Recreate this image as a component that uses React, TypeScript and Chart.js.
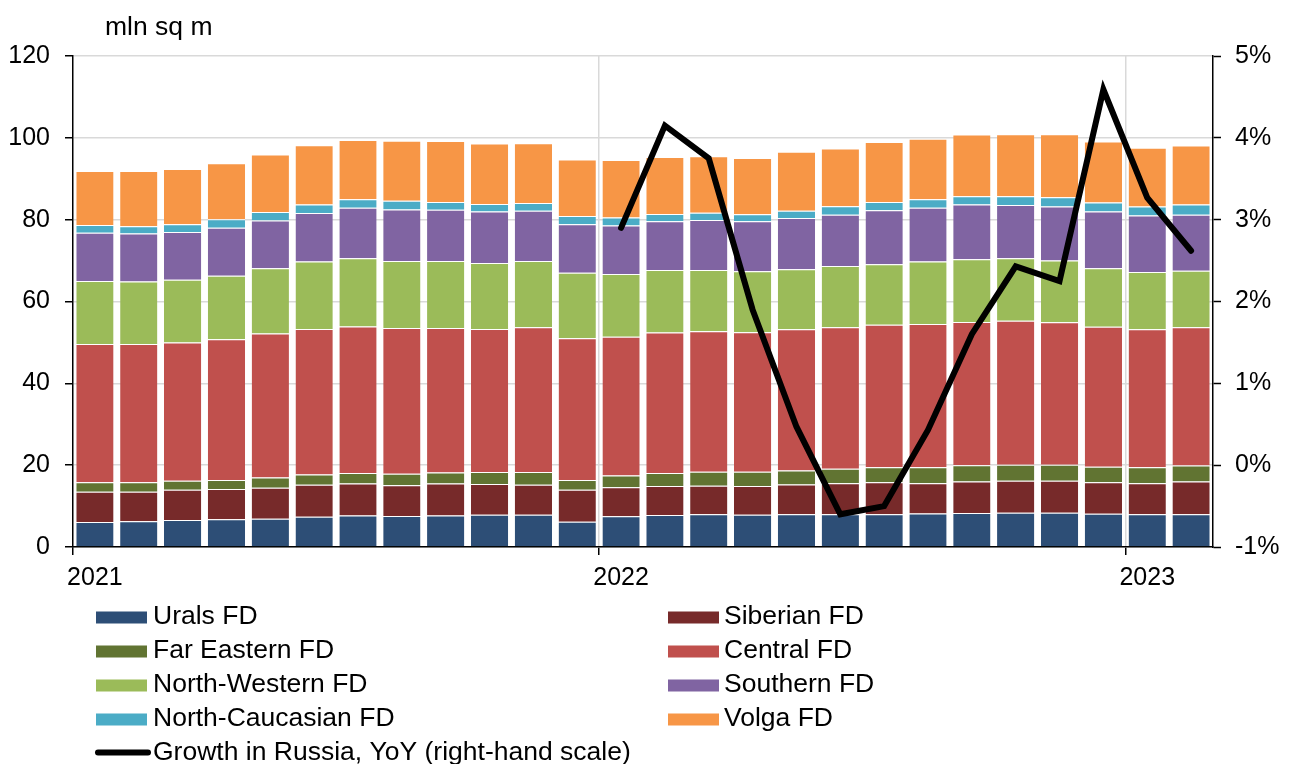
import React, { useEffect, useRef } from 'react';
import { Chart, registerables } from 'chart.js';

Chart.register(...registerables);

const months = [
  '2021-01', '2021-02', '2021-03', '2021-04', '2021-05', '2021-06', '2021-07', '2021-08', '2021-09', '2021-10', '2021-11', '2021-12',
  '2022-01', '2022-02', '2022-03', '2022-04', '2022-05', '2022-06', '2022-07', '2022-08', '2022-09', '2022-10', '2022-11', '2022-12',
  '2023-01', '2023-02',
];
const yearLabels = ['2021', '2022', '2023'];

const urals = [6.1, 6.3, 6.6, 6.8, 6.9, 7.4, 7.7, 7.6, 7.7, 7.9, 7.9, 6.2, 7.5, 7.8, 8.0, 7.9, 8.0, 8.0, 8.0, 8.2, 8.3, 8.4, 8.4, 8.1, 8.0, 8.0];
const siberian = [7.4, 7.2, 7.4, 7.4, 7.6, 7.8, 7.8, 7.5, 7.8, 7.5, 7.3, 7.8, 7.1, 7.1, 7.0, 7.0, 7.3, 7.6, 7.8, 7.4, 7.7, 7.8, 7.8, 7.7, 7.6, 8.0];
const farEastern = [2.3, 2.3, 2.2, 2.2, 2.5, 2.5, 2.6, 2.8, 2.7, 2.9, 3.1, 2.4, 2.9, 3.2, 3.4, 3.5, 3.4, 3.5, 3.7, 3.9, 4.0, 3.9, 3.9, 3.8, 3.9, 3.9];
const central = [33.8, 33.8, 33.8, 34.4, 35.2, 35.6, 35.8, 35.6, 35.3, 35.0, 35.4, 34.6, 33.9, 34.3, 34.3, 34.1, 34.5, 34.6, 34.8, 35.0, 35.0, 35.2, 34.8, 34.2, 33.7, 33.8];
const northWestern = [15.4, 15.3, 15.3, 15.5, 15.9, 16.5, 16.7, 16.4, 16.4, 16.1, 16.2, 16.0, 15.3, 15.3, 15.0, 14.9, 14.7, 15.0, 14.8, 15.3, 15.3, 15.3, 15.1, 14.3, 14.0, 13.8];
const southern = [11.8, 11.7, 11.7, 11.7, 11.7, 11.8, 12.3, 12.6, 12.5, 12.6, 12.3, 11.9, 11.9, 11.9, 12.2, 12.2, 12.5, 12.5, 13.2, 13.1, 13.4, 13.0, 13.2, 13.9, 13.8, 13.7];
const northCaucasian = [1.9, 1.8, 1.9, 2.1, 2.1, 2.1, 2.1, 2.1, 1.9, 1.8, 1.9, 2.0, 1.9, 1.8, 1.8, 1.7, 1.8, 2.1, 2.0, 2.1, 2.0, 2.1, 2.3, 2.2, 2.2, 2.5];
const volga = [13.2, 13.5, 13.5, 13.7, 14.0, 14.5, 14.5, 14.7, 14.9, 14.8, 14.6, 13.8, 14.1, 13.9, 13.8, 13.8, 14.4, 14.1, 14.7, 14.8, 15.1, 15.2, 15.4, 14.9, 14.4, 14.4];
const growth: (number | null)[] = [
  null, null, null, null, null, null, null, null, null, null, null, null,
  2.90, 4.15, 3.75, 1.90, 0.47, -0.60, -0.50, 0.43, 1.60, 2.43, 2.25, 4.59, 3.27, 2.62,
];

const barSeries = [
  { label: 'Urals FD', data: urals, color: '#2D4E76' },
  { label: 'Siberian FD', data: siberian, color: '#772A2A' },
  { label: 'Far Eastern FD', data: farEastern, color: '#617432' },
  { label: 'Central FD', data: central, color: '#C0504D' },
  { label: 'North-Western FD', data: northWestern, color: '#9BBB59' },
  { label: 'Southern FD', data: southern, color: '#8064A2' },
  { label: 'North-Caucasian FD', data: northCaucasian, color: '#4BACC6' },
  { label: 'Volga FD', data: volga, color: '#F79646' },
];
const lineLabel = 'Growth in Russia, YoY (right-hand scale)';
const unitLabel = 'mln sq m';

const FONT = "'Liberation Sans', Arial, sans-serif";
const FONT_SIZE = 25;
const LEGEND_FONT_SIZE = 26.5;

export default function App() {
  const ref = useRef<HTMLCanvasElement>(null);

  useEffect(() => {
    const canvas = ref.current;
    if (!canvas) return;

    const legendPlugin = {
      id: 'customLegend',
      afterDraw(chart: any) {
        const ctx = chart.ctx;
        ctx.save();
        ctx.font = `${LEGEND_FONT_SIZE}px ${FONT}`;
        ctx.fillStyle = '#000';
        ctx.textBaseline = 'alphabetic';
        ctx.textAlign = 'left';
        // unit label
        ctx.fillText(unitLabel, 105, 35);

        const rowY = [617, 651, 685, 719, 752.5];
        const cols = [
          { boxX: 96, textX: 153 },
          { boxX: 668, textX: 724 },
        ];
        barSeries.forEach((s, i) => {
          const col = cols[i % 2];
          const row = Math.floor(i / 2);
          const cy = rowY[row];
          ctx.fillStyle = s.color;
          ctx.fillRect(col.boxX, cy - 5.5, 51, 12);
          ctx.fillStyle = '#000';
          ctx.fillText(s.label, col.textX, cy + 7);
        });
        // line legend
        const cy = rowY[4];
        ctx.strokeStyle = '#000';
        ctx.lineWidth = 6;
        ctx.lineCap = 'round';
        ctx.beginPath();
        ctx.moveTo(98, cy);
        ctx.lineTo(148, cy);
        ctx.stroke();
        ctx.fillText(lineLabel, 153, cy + 7);
        ctx.restore();
      },
    };

    const datasets: any[] = barSeries.map((s) => ({
      type: 'bar',
      label: s.label,
      data: s.data,
      backgroundColor: s.color,
      borderColor: '#ffffff',
      borderWidth: { top: 1, left: 0, right: 0, bottom: 0 },
      borderSkipped: false,
      yAxisID: 'y',
      order: 1,
      barPercentage: 0.85,
      categoryPercentage: 1,
    }));
    datasets.push({
      type: 'line',
      label: lineLabel,
      data: growth,
      borderColor: '#000000',
      borderWidth: 6,
      pointRadius: 0,
      tension: 0,
      fill: false,
      yAxisID: 'y1',
      order: 0,
      borderCapStyle: 'round',
      borderJoinStyle: 'miter',
    });

    const chart = new Chart(canvas, {
      type: 'bar',
      data: { labels: months, datasets },
      plugins: [legendPlugin],
      options: {
        responsive: false,
        animation: false,
        devicePixelRatio: 1,
        layout: { padding: { top: 56, left: 0, right: 0, bottom: 0 } },
        plugins: {
          legend: { display: false },
          tooltip: { enabled: false },
          title: { display: false },
        },
        scales: {
          x: {
            stacked: true,
            offset: true,
            grid: {
              offset: true,
              drawOnChartArea: true,
              color: (c: any) => (c.index === 12 || c.index === 24 ? '#d9d9d9' : 'rgba(0,0,0,0)'),
              tickColor: (c: any) => (c.index % 12 === 0 && c.index < 26 ? '#000000' : 'rgba(0,0,0,0)'),
              tickLength: 8,
              lineWidth: 1.5,
              tickWidth: 1.5,
            },
            border: { display: true, color: '#000000', width: 1.5 },
            ticks: {
              autoSkip: false,
              maxRotation: 0,
              minRotation: 0,
              padding: 8,
              color: '#000000',
              font: { family: FONT, size: FONT_SIZE },
              callback: (_v: any, i: number) => (i % 12 === 0 ? yearLabels[i / 12] : ''),
            },
            afterFit: (s: any) => {
              s.height = 217;
            },
          },
          y: {
            stacked: true,
            position: 'left',
            min: 0,
            max: 120,
            grid: {
              color: '#d9d9d9',
              lineWidth: 1.5,
              tickColor: '#000000',
              tickLength: 8,
              tickWidth: 1.5,
            },
            border: { display: true, color: '#000000', width: 1.5 },
            ticks: {
              stepSize: 20,
              padding: 15,
              color: '#000000',
              font: { family: FONT, size: FONT_SIZE },
            },
            afterFit: (s: any) => {
              s.width = 73;
            },
          },
          y1: {
            position: 'right',
            min: -1,
            max: 5,
            grid: {
              drawOnChartArea: false,
              tickColor: '#000000',
              tickLength: 8,
              tickWidth: 1.5,
            },
            border: { display: true, color: '#000000', width: 1.5 },
            ticks: {
              stepSize: 1,
              padding: 14,
              color: '#000000',
              font: { family: FONT, size: FONT_SIZE },
              callback: (v: any) => `${v}%`,
            },
            afterFit: (s: any) => {
              s.width = 80;
            },
          },
        },
      },
    });

    return () => chart.destroy();
  }, []);

  return (
    <div style={{ position: 'fixed', left: 0, top: 0, width: 1293, height: 764, background: '#ffffff' }}>
      <canvas ref={ref} width={1293} height={764} style={{ display: 'block', width: 1293, height: 764 }} />
    </div>
  );
}
